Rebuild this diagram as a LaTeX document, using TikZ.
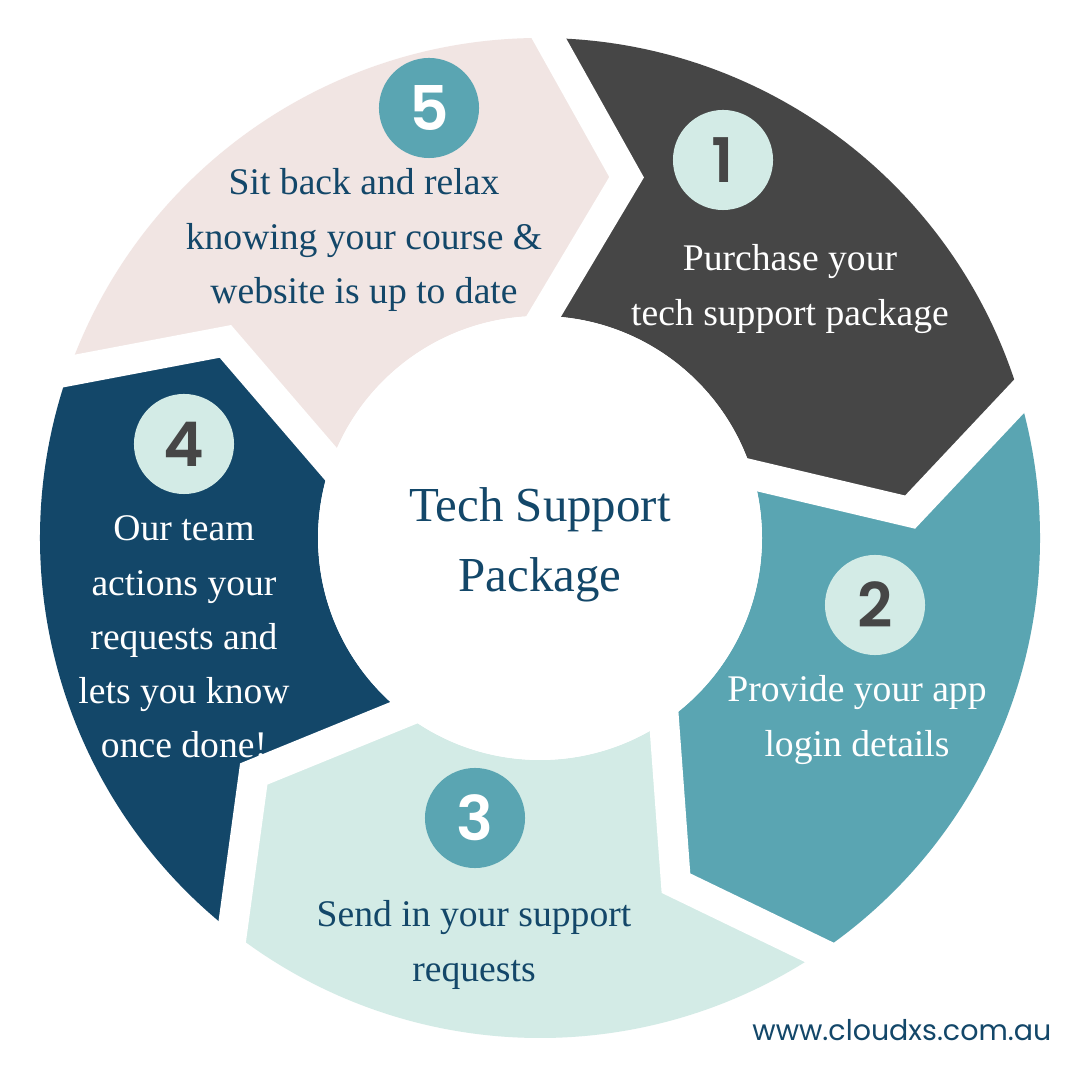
\documentclass[tikz,border=0pt]{standalone}
\usepackage{fontspec}
\setmainfont{Liberation Serif}
\newfontfamily\numfont{Poppins SemiBold}
\newfontfamily\urlfont{Poppins}
\usetikzlibrary{calc}
\definecolor{cdark}{HTML}{464646}
\definecolor{cteal}{HTML}{5AA5B2}
\definecolor{cmint}{HTML}{D3EBE6}
\definecolor{cnavy}{HTML}{134769}
\definecolor{cpink}{HTML}{F1E5E3}
\def\Ja{89}
\def\Jb{16.5}
\def\Jc{-56}
\def\Jd{-128}
\def\Je{-199.5}
\def\Jf{-271}
\def\Tip{12.5}
\newcommand{\segment}[3]{%
  \fill[#1] (#2:500) arc[start angle=#2, end angle=#3, radius=500]
    -- ({#3-\Tip}:371) -- (#3:222) arc[start angle=#3, end angle=#2, radius=222]
    -- ({#2-\Tip}:371) -- cycle;}
\newcommand{\gapat}[1]{%
  \draw[gapline] ($({#1-\Tip}:371)!1.5!(#1:222)$) -- ({#1-\Tip}:371) -- ($({#1-\Tip}:371)!1.3!(#1:500)$);}
\begin{document}
\begin{tikzpicture}[x=0.01cm,y=0.01cm,
  gapline/.style={draw=white, line width=0.3cm, line join=miter},
  numdot/.style={circle, minimum size=1cm, inner sep=0pt, font=\numfont\fontsize{17.5}{17.5}\selectfont},
  segtext/.style={align=center, inner sep=0pt, font=\fontsize{10.7}{15.4}\selectfont},
  centertext/.style={align=center, inner sep=0pt, font=\fontsize{13.9}{19.9}\selectfont, text=cnavy}]
\useasboundingbox (-540,-542) rectangle (540,538);
\fill[white] (-540,-542) rectangle (540,538);
\segment{cdark}{\Ja}{\Jb}
\segment{cteal}{\Jb}{\Jc}
\segment{cmint}{\Jc}{\Jd}
\segment{cnavy}{\Jd}{\Je}
\segment{cpink}{\Je}{\Jf}
\gapat{\Ja}
\gapat{\Jb}
\gapat{\Jc}
\gapat{\Jd}
\gapat{\Je}
\fill[white] (0,0) circle[radius=222];
\node[numdot, fill=cmint, text=cdark] (n1) at (183,378) {1};
\node[numdot, fill=cmint, text=cdark] (n2) at (335,-67) {2};
\node[numdot, fill=cteal, text=white] (n3) at (-65,-280) {3};
\node[numdot, fill=cmint, text=cdark] (n4) at (-356,94) {4};
\node[numdot, fill=cteal, text=white] (n5) at (-111,430) {5};
\node[segtext, text=white] (t1) at (250,249) {Purchase your\\tech support package};
\node[segtext, text=white] (t2) at (317,-182) {Provide your app\\login details};
\node[segtext, text=cnavy] (t3) at (-66,-407) {Send in your support\\requests};
\node[segtext, text=white] (t4) at (-356,-99) {Our team\\actions your\\requests and\\lets you know\\once done!};
\node[segtext, text=cnavy] (t5) at (-176,298) {Sit back and relax\\knowing your course \&\\website is up to date};
\node[centertext] (ct) at (0,-7) {Tech Support\\Package};
\node[anchor=east, inner sep=0pt, text=cnavy, font=\urlfont\fontsize{8.1}{9}\selectfont] (url) at (512,-492) {www.cloudxs.com.au};
\end{tikzpicture}
\end{document}
